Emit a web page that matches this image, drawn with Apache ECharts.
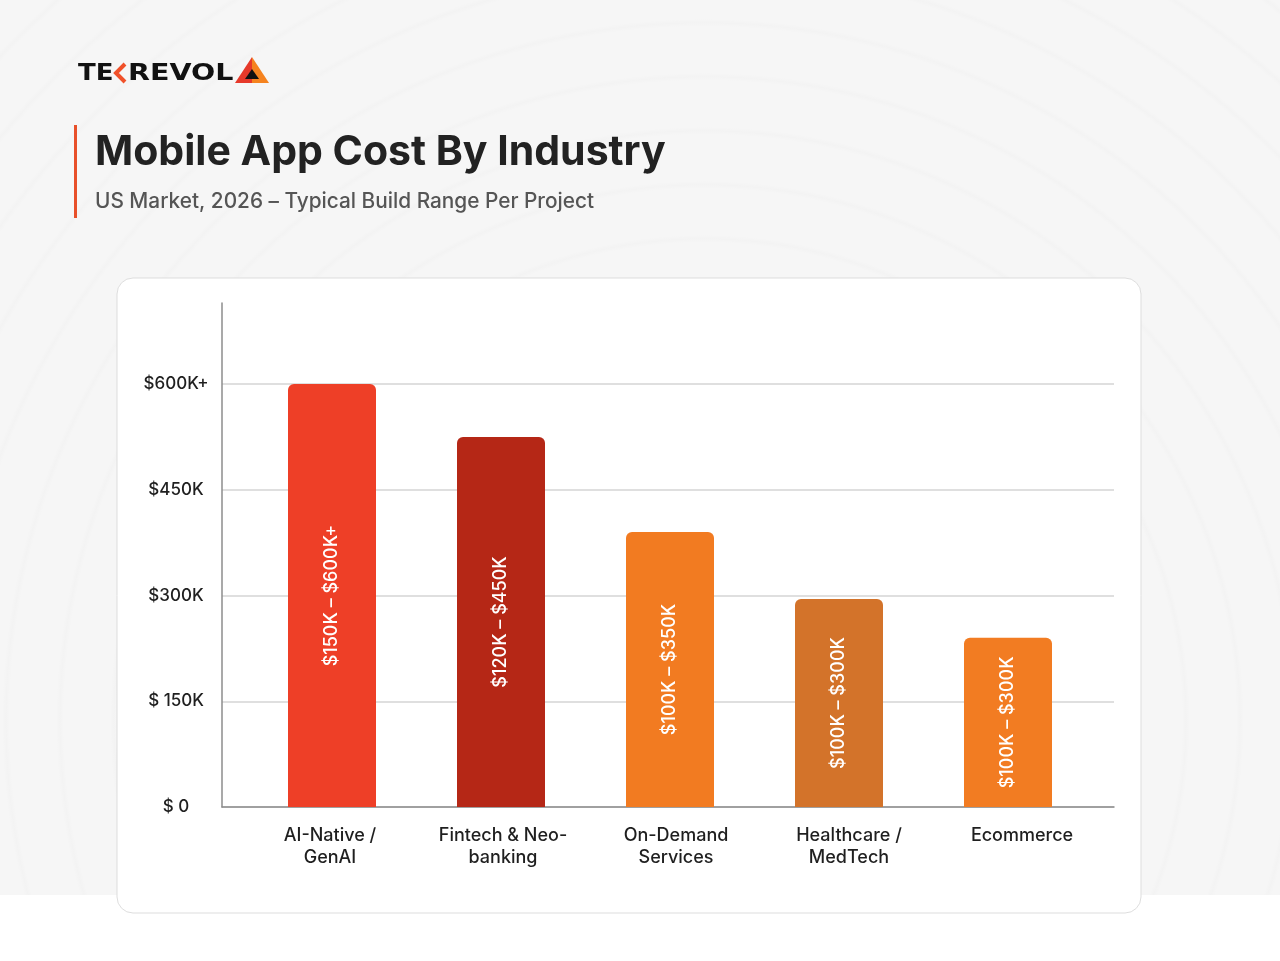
<!DOCTYPE html>
<html>
<head>
<meta charset="utf-8">
<script src="https://cdn.jsdelivr.net/npm/echarts@6/dist/echarts.min.js"></script>
<style>
  html, body { margin: 0; padding: 0; }
  body {
    width: 1280px; height: 961px; overflow: hidden;
    background:
      linear-gradient(to bottom, transparent 0, transparent 895px, #ffffff 895px),
      repeating-radial-gradient(circle at 55% 75%, rgba(0,0,0,0) 0, rgba(0,0,0,0) 46px, rgba(0,0,0,0.012) 50px, rgba(0,0,0,0) 54px),
      #f6f6f6;
  }
  #chart { width: 1280px; height: 961px; }
</style>
</head>
<body>
<div id="chart"></div>
<script>
const categories = ['AI-Native /\nGenAI', 'Fintech & Neo-\nbanking', 'On-Demand\nServices', 'Healthcare /\nMedTech', 'Ecommerce']
const values = [600, 525, 390, 295, 240]
const rangeLabels = ['$150K – $600K+', '$120K – $450K', '$100K – $350K', '$100K – $300K', '$100K – $300K']
const barColors = ['#EE3F27', '#B52716', '#F27B21', '#D3732A', '#F27C22']
const yTickLabels = { 0: '$ 0', 150: '$ 150K', 300: '$300K', 450: '$450K', 600: '$600K+' }

const font = 'Inter, "Noto Sans", sans-serif'
const chart = echarts.init(document.getElementById('chart'), null, { renderer: 'canvas' })

const option = {
  backgroundColor: 'transparent',
  textStyle: { fontFamily: font },
  grid: [
    // wide grid: gridlines + axis lines
    { left: 222, right: 166, top: 303, bottom: 154, outerBoundsMode: 'none' },
    // bars
    { left: 247.5, right: 187.5, top: 303, bottom: 154, outerBoundsMode: 'none' },
    // category labels (slightly wider spacing than the bars)
    { left: 243.5, right: 171.5, top: 303, bottom: 154, outerBoundsMode: 'none' }
  ],
  xAxis: [
    {
      gridIndex: 0,
      type: 'category',
      data: categories,
      axisLine: { lineStyle: { color: '#8c8c8c', width: 1.5 } },
      axisTick: { show: false },
      axisLabel: { show: false }
    },
    {
      gridIndex: 1,
      type: 'category',
      data: categories,
      show: false
    },
    {
      gridIndex: 2,
      type: 'category',
      data: categories,
      axisLine: { show: false },
      axisTick: { show: false },
      axisLabel: {
        color: '#1f1f1f',
        fontSize: 18,
        fontWeight: 500,
        lineHeight: 22,
        margin: 18,
        interval: 0
      }
    }
  ],
  yAxis: [
    {
      gridIndex: 0,
      type: 'value',
      min: 0,
      max: 715,
      interval: 150,
      axisLine: { show: true, lineStyle: { color: '#8c8c8c', width: 1.5 } },
      axisTick: { show: false },
      axisLabel: {
        showMaxLabel: false,
        color: '#1f1f1f',
        fontSize: 17,
        fontWeight: 500,
        align: 'center',
        margin: 46,
        formatter: v => yTickLabels[v] !== undefined ? yTickLabels[v] : ''
      },
      splitLine: { showMaxLine: false, lineStyle: { color: '#d4d4d4', width: 1.5 } }
    },
    { gridIndex: 1, type: 'value', min: 0, max: 715, interval: 150, show: false },
    { gridIndex: 2, type: 'value', min: 0, max: 715, interval: 150, show: false }
  ],
  graphic: [
    // card
    {
      type: 'rect', z: -10,
      shape: { x: 117, y: 278, width: 1024, height: 635, r: 16 },
      style: { fill: '#ffffff', stroke: '#dddddd', lineWidth: 1 }
    },
    // accent bar
    {
      type: 'rect',
      shape: { x: 74, y: 125, width: 3, height: 93 },
      style: { fill: '#E8502A' }
    },
    {
      type: 'text', left: 95, top: 132,
      style: { text: 'Mobile App Cost By Industry', fill: '#222222', font: '700 41px ' + font }
    },
    {
      type: 'text', left: 95, top: 191,
      style: { text: 'US Market, 2026 – Typical Build Range Per Project', fill: '#555555', font: '500 20.8px ' + font }
    },
    // logo
    {
      type: 'text', x: 78, y: 63, scaleX: 1.13,
      style: { text: 'TE', fill: '#111111', font: '800 23px "DejaVu Sans", sans-serif' }
    },
    {
      type: 'polyline',
      shape: { points: [[125, 64], [116, 73], [125, 82]] },
      style: { stroke: '#F0512A', lineWidth: 4, fill: null }
    },
    {
      type: 'text', x: 128, y: 63, scaleX: 1.24,
      style: { text: 'REVOL', fill: '#111111', font: '800 23px "DejaVu Sans", sans-serif' }
    },
    {
      type: 'polygon',
      shape: { points: [[252, 57], [235, 83], [252, 83]] },
      style: { fill: '#E6392A' }
    },
    {
      type: 'polygon',
      shape: { points: [[252, 57], [252, 83], [269, 83]] },
      style: { fill: '#F5831F' }
    },
    {
      type: 'polygon',
      shape: { points: [[252, 69], [245, 79], [259, 79]] },
      style: { fill: '#111111' }
    }
  ],
  series: [
    {
      type: 'bar',
      xAxisIndex: 1,
      yAxisIndex: 1,
      barWidth: 88,
      data: values.map((v, i) => ({
        value: v,
        itemStyle: { color: barColors[i], borderRadius: [6, 6, 0, 0] },
        label: { formatter: rangeLabels[i] }
      })),
      label: {
        show: true,
        position: 'inside',
        rotate: 90,
        color: '#ffffff',
        fontSize: 18,
        fontWeight: 500
      }
    }
  ]
}

chart.setOption(option)
</script>
</body>
</html>
